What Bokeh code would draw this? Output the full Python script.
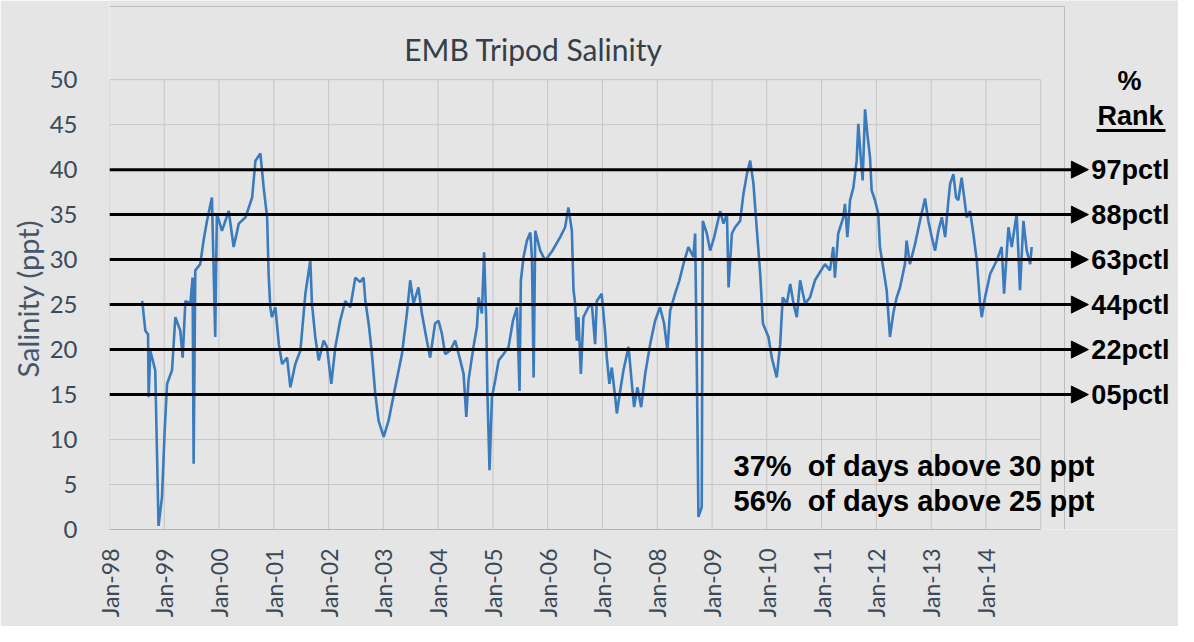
import pandas as pd
from bokeh.plotting import figure
from bokeh.models import Range1d, FixedTicker, DatetimeTickFormatter, Arrow, NormalHead, Label, Title
from bokeh.embed import file_html
from bokeh.resources import INLINE

# ---------------- data ----------------
dates = [
    "1998-08-07", "1998-08-28", "1998-09-15", "1998-09-19", "1998-09-30", "1998-11-02", "1998-11-24", "1998-12-17",
    "1999-01-04", "1999-01-20", "1999-02-22", "1999-03-16", "1999-04-18", "1999-05-04", "1999-05-22", "1999-06-24",
    "1999-07-09", "1999-07-16", "1999-07-27", "1999-08-29", "1999-09-20", "1999-10-13", "1999-11-15", "1999-12-07",
    "1999-12-18", "2000-01-21", "2000-03-06", "2000-04-08", "2000-05-12", "2000-06-26", "2000-08-09", "2000-08-31",
    "2000-10-03", "2000-10-25", "2000-11-17", "2000-11-27", "2000-12-08", "2000-12-19", "2001-01-11", "2001-02-03",
    "2001-02-25", "2001-03-30", "2001-04-21", "2001-05-24", "2001-06-27", "2001-07-30", "2001-09-01", "2001-09-12",
    "2001-10-04", "2001-10-27", "2001-11-29", "2001-12-21", "2002-01-19", "2002-02-15", "2002-03-19", "2002-04-22",
    "2002-05-26", "2002-06-28", "2002-07-31", "2002-08-22", "2002-09-03", "2002-09-25", "2002-10-17", "2002-11-08",
    "2002-11-30", "2003-01-03", "2003-02-05", "2003-03-21", "2003-05-05", "2003-06-07", "2003-06-29", "2003-07-21",
    "2003-08-23", "2003-09-15", "2003-10-18", "2003-11-09", "2003-12-12", "2004-01-04", "2004-01-26", "2004-02-17",
    "2004-03-22", "2004-04-24", "2004-05-28", "2004-06-19", "2004-07-07", "2004-07-22", "2004-08-24", "2004-09-16",
    "2004-09-27", "2004-10-19", "2004-11-03", "2004-11-17", "2004-11-25", "2004-12-09", "2004-12-25", "2005-01-16",
    "2005-02-08", "2005-03-13", "2005-04-15", "2005-05-14", "2005-06-10", "2005-06-27", "2005-07-06", "2005-07-24",
    "2005-08-15", "2005-09-07", "2005-09-18", "2005-09-29", "2005-10-10", "2005-11-12", "2005-12-15", "2006-01-29",
    "2006-03-25", "2006-04-27", "2006-05-19", "2006-06-11", "2006-06-22", "2006-07-03", "2006-07-14", "2006-07-25",
    "2006-08-10", "2006-08-27", "2006-09-29", "2006-10-22", "2006-11-13", "2006-11-24", "2006-12-27", "2007-01-18",
    "2007-01-30", "2007-02-16", "2007-03-04", "2007-03-27", "2007-04-07", "2007-04-29", "2007-05-21", "2007-06-24",
    "2007-07-16", "2007-07-31", "2007-08-22", "2007-09-16", "2007-10-13", "2007-11-15", "2007-12-18", "2008-01-20",
    "2008-02-16", "2008-03-09", "2008-03-27", "2008-04-29", "2008-05-28", "2008-06-24", "2008-07-27", "2008-08-29",
    "2008-09-10", "2008-09-21", "2008-10-02", "2008-10-24", "2008-10-31", "2008-11-27", "2008-12-19", "2009-01-15",
    "2009-02-24", "2009-03-18", "2009-04-10", "2009-04-21", "2009-05-13", "2009-06-04", "2009-07-07", "2009-07-29",
    "2009-08-21", "2009-09-12", "2009-10-04", "2009-10-27", "2009-11-18", "2009-12-06", "2010-01-12", "2010-02-03",
    "2010-03-08", "2010-03-31", "2010-04-17", "2010-05-14", "2010-06-06", "2010-06-28", "2010-07-20", "2010-08-11",
    "2010-09-13", "2010-10-16", "2010-11-18", "2010-12-21", "2011-01-24", "2011-02-26", "2011-03-20", "2011-03-31",
    "2011-04-22", "2011-05-26", "2011-06-06", "2011-06-22", "2011-07-10", "2011-08-01", "2011-08-23", "2011-09-03",
    "2011-09-19", "2011-10-02", "2011-10-18", "2011-11-02", "2011-11-20", "2011-12-01", "2011-12-23", "2012-01-14",
    "2012-01-25", "2012-02-16", "2012-03-10", "2012-04-01", "2012-04-23", "2012-05-16", "2012-06-07", "2012-07-10",
    "2012-07-21", "2012-08-12", "2012-09-15", "2012-10-18", "2012-11-21", "2012-12-13", "2013-01-05", "2013-01-27",
    "2013-02-18", "2013-03-13", "2013-04-04", "2013-04-26", "2013-05-07", "2013-05-29", "2013-06-16", "2013-07-01",
    "2013-07-23", "2013-08-03", "2013-08-26", "2013-09-17", "2013-10-09", "2013-11-01", "2013-11-23", "2013-12-04",
    "2013-12-26", "2014-01-29", "2014-03-14", "2014-04-16", "2014-05-02", "2014-05-31", "2014-06-22", "2014-07-25",
    "2014-08-16", "2014-09-08", "2014-09-30", "2014-10-23", "2014-11-02",
]
salinity = [
    25.4, 22.1, 21.7, 14.7, 19.9, 17.7, 0.4, 3.6,
    11.0, 16.2, 17.7, 23.6, 22.1, 19.1, 25.4, 25.1,
    28.0, 7.3, 28.8, 29.5, 32.1, 34.3, 36.9, 21.4,
    35.1, 33.2, 35.4, 31.4, 34.0, 34.7, 36.9, 41.0,
    41.8, 38.0, 34.7, 28.4, 24.7, 23.6, 24.7, 20.6,
    18.4, 19.1, 15.8, 18.4, 19.9, 26.2, 29.9, 25.1,
    21.4, 18.8, 21.0, 20.3, 16.2, 20.3, 23.2, 25.4,
    24.7, 28.0, 27.5, 28.0, 25.4, 22.9, 19.5, 15.1,
    12.1, 10.3, 12.1, 15.8, 19.5, 24.0, 27.7, 25.1,
    26.9, 24.0, 21.0, 19.1, 22.9, 23.2, 21.8, 19.5,
    19.9, 21.0, 18.8, 17.3, 12.5, 16.6, 20.3, 22.5,
    25.8, 24.0, 30.8, 23.2, 15.1, 6.6, 14.7, 16.6,
    18.8, 19.5, 20.3, 23.2, 24.7, 15.4, 27.7, 30.3,
    32.1, 33.0, 30.1, 16.9, 33.2, 31.0, 29.9, 30.9,
    32.5, 33.6, 35.8, 33.2, 26.6, 25.1, 21.0, 23.6,
    17.3, 23.6, 24.7, 25.1, 20.6, 25.4, 26.2, 22.1,
    19.1, 16.2, 18.0, 14.7, 12.9, 15.4, 17.7, 20.3,
    16.2, 13.6, 15.8, 13.6, 17.3, 20.6, 23.2, 24.7,
    22.9, 19.9, 24.3, 26.2, 27.7, 29.5, 31.4, 30.3,
    32.9, 18.4, 1.4, 2.5, 34.3, 32.9, 31.0, 32.5,
    35.4, 34.0, 35.1, 26.9, 32.9, 33.6, 34.3, 37.3,
    39.5, 41.0, 38.4, 33.2, 28.4, 22.9, 21.4, 19.1,
    16.9, 20.6, 25.8, 25.1, 27.3, 25.1, 23.6, 27.7,
    25.1, 25.8, 27.7, 28.6, 29.5, 28.8, 31.4, 28.0,
    32.9, 34.7, 36.2, 32.5, 36.6, 38.0, 41.0, 45.1,
    41.4, 38.8, 46.7, 44.0, 41.4, 37.7, 36.6, 35.1,
    31.4, 29.1, 26.6, 21.4, 24.0, 25.8, 26.9, 29.5,
    32.1, 29.5, 31.7, 34.3, 36.8, 34.3, 32.5, 31.0,
    33.2, 34.7, 32.5, 36.6, 38.4, 39.5, 36.9, 36.6,
    39.1, 37.7, 34.7, 35.4, 32.9, 29.9, 25.1, 23.6,
    25.8, 28.4, 29.9, 31.4, 26.2, 33.6, 31.4, 35.1,
    26.6, 34.3, 31.0, 29.5, 31.4,
]
tick_dates = [f"{y}-01-01" for y in range(1998, 2015)]
axis_start_date = "1998-01-01"
axis_end_date = "2015-01-01"
view_end_date = "2017-07-08"      # canvas extends right of the plot area for the rank labels
view_top = 58.8                    # canvas extends above the plot area for the title
arrow_end_date = "2015-11-15"
y_ticks = [0, 5, 10, 15, 20, 25, 30, 35, 40, 45, 50]
pct_levels = [40, 35, 30, 25, 20, 15]
pct_labels = ["97pctl", "88pctl", "63pctl", "44pctl", "22pctl", "05pctl"]
stats_lines = ["37%\u00a0 of days above 30 ppt", "56%\u00a0 of days above 25 ppt"]
title_text = "EMB Tripod Salinity"
y_label = "Salinity (ppt)"


def ms(d):
    return (pd.Timestamp(d) - pd.Timestamp("1970-01-01")) // pd.Timedelta("1ms")


BG = "#e5e5e5"
GRID = "#c6c6c6"
AXTXT = "#3a4a58"
BOLD = dict(text_font="Liberation Sans", text_font_style="bold", text_color="black")

p = figure(width=1178, height=626, x_axis_type="datetime",
           x_range=Range1d(ms(axis_start_date), ms(view_end_date)), y_range=Range1d(0, view_top),
           output_backend="svg", toolbar_location=None,
           min_border_left=109, min_border_right=0, min_border_top=0, min_border_bottom=97)
p.background_fill_color = BG
p.border_fill_color = BG
p.outline_line_color = None
p.xgrid.visible = False
p.ygrid.visible = False

# grid of the plot area (drawn through the scales)
grid_x = [ms(d) for d in tick_dates + [axis_end_date]]
p.segment(x0=grid_x, y0=[y_ticks[0]] * len(grid_x), x1=grid_x, y1=[y_ticks[-1]] * len(grid_x),
          line_color=GRID, line_width=1)
p.segment(x0=[ms(axis_start_date)] * len(y_ticks), y0=y_ticks, x1=[ms(axis_end_date)] * len(y_ticks),
          y1=y_ticks, line_color=GRID, line_width=1)

p.line(x=pd.to_datetime(dates), y=salinity, line_color="#3a7bbd", line_width=2.6)

# axes
p.xaxis.ticker = FixedTicker(ticks=[ms(d) for d in tick_dates])
p.xaxis.bounds = (ms(axis_start_date), ms(axis_end_date))
fmt = "%b-%y"
p.xaxis.formatter = DatetimeTickFormatter(years=fmt, months=fmt, days=fmt, hours=fmt, hourmin=fmt,
                                          minutes=fmt, minsec=fmt, seconds=fmt, milliseconds=fmt,
                                          microseconds=fmt)
p.xaxis.major_label_orientation = 1.5708
p.yaxis.ticker = FixedTicker(ticks=y_ticks)
p.yaxis.bounds = (y_ticks[0], y_ticks[-1])
for ax in (p.xaxis[0], p.yaxis[0]):
    ax.major_tick_line_color = None
    ax.minor_tick_line_color = None
    ax.major_label_text_font = "Lato"
    ax.major_label_text_color = AXTXT
p.xaxis.axis_line_color = "#b4b4b4"
p.yaxis.axis_line_color = None
p.xaxis.major_label_text_font_size = "23px"
p.yaxis.major_label_text_font_size = "24px"
p.xaxis.major_label_standoff = 13
p.yaxis.major_label_standoff = 26

# y-axis title placed in the left side panel
p.add_layout(Title(text=y_label, align="left", offset=152, standoff=3, text_font="Lato",
                   text_font_size="29px", text_font_style="normal", text_color="#45566a"), "left")

# chart-area border (right and top edges)
p.add_layout(Arrow(start=None, end=None, x_start=955, y_start=-200, x_end=955, y_end=523,
                   start_units="screen", end_units="screen", line_color="#bdbdbd", line_width=1))
p.add_layout(Arrow(start=None, end=None, x_start=-200, y_start=523, x_end=955, y_end=523,
                   start_units="screen", end_units="screen", line_color="#bdbdbd", line_width=1))

# percentile arrows + labels
for lvl, lab in zip(pct_levels, pct_labels):
    p.add_layout(Arrow(end=NormalHead(size=17, fill_color="black", line_color="black", line_width=1),
                       x_start=ms(axis_start_date), y_start=lvl, x_end=ms(arrow_end_date), y_end=lvl,
                       line_color="black", line_width=3))
    p.add_layout(Label(x=ms(arrow_end_date), y=lvl, text=lab, x_offset=3, text_font_size="27px",
                       text_align="left", text_baseline="middle", **BOLD))

# texts in screen units (relative to the plot frame)
p.add_layout(Label(x=424, y=481, x_units="screen", y_units="screen", text=title_text,
                   text_font="Lato", text_font_size="30px", text_color="#353f48",
                   text_align="center", text_baseline="middle"))
p.add_layout(Label(x=1020, y=449, x_units="screen", y_units="screen", text="%", text_font_size="27px",
                   text_align="center", text_baseline="middle", **BOLD))
p.add_layout(Label(x=1021, y=414, x_units="screen", y_units="screen", text="Rank", text_font_size="27px",
                   text_align="center", text_baseline="middle", **BOLD))
p.add_layout(Arrow(start=None, end=None, x_start=987, y_start=399, x_end=1056, y_end=399,
                   start_units="screen", end_units="screen", line_color="black", line_width=3))
for i, s in enumerate(stats_lines):
    p.add_layout(Label(x=624, y=64 - 35 * i, x_units="screen", y_units="screen", text=s,
                       text_font_size="29px", text_align="left", text_baseline="middle", **BOLD))

open("out.html", "w").write(file_html(p, INLINE))
